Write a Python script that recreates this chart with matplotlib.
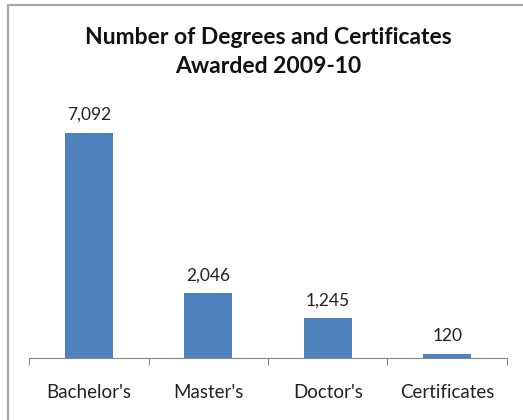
import matplotlib
matplotlib.use("Agg")
import matplotlib.pyplot as plt
from matplotlib.patches import Rectangle

# data
categories = ["Bachelor's", "Master's", "Doctor's", "Certificates"]
awarded = [7092, 2046, 1245, 120]
title = "Number of Degrees and Certificates\nAwarded 2009-10"

plt.rcParams['font.family'] = ['Lato', 'DejaVu Sans']

W, H = 523, 420
fig = plt.figure(figsize=(W / 100, H / 100), dpi=100)

# chart border (cut off at right and bottom in the original)
fig.patches.append(Rectangle((8 / W, -0.1), 1.2, 1 - 5 / H + 0.1,
                             transform=fig.transFigure, fill=False,
                             edgecolor='#a6a6a6', linewidth=1.6))

ax = fig.add_axes([29 / W, 62 / H, (507 - 29) / W, (358 - 104) / H])
x = range(len(categories))
ax.bar(x, awarded, width=0.4, color='#4f81bd')

for i, v in enumerate(awarded):
    ax.annotate(f"{v:,}", (i, v), xytext=(0, 7), textcoords='offset points',
                ha='center', va='bottom', fontsize=12.5, color='#222222')

ax.set_xlim(-0.5, len(categories) - 0.5)
ax.set_ylim(0, 8000)
ax.set_yticks([])
for s in ['top', 'right', 'left']:
    ax.spines[s].set_visible(False)
ax.spines['bottom'].set_color('#868686')

ax.set_xticks([i - 0.5 for i in range(len(categories) + 1)], minor=False)
ax.set_xticklabels([])
ax.tick_params(axis='x', which='major', length=5, color='#868686', direction='out')
ax.set_xticks(list(x), minor=True)
ax.set_xticklabels(categories, minor=True)
ax.tick_params(axis='x', which='minor', length=0, pad=19, labelsize=13.5, labelcolor='#222222')

fig.text(268 / W, 1 - 52 / H, title, ha='center', va='center',
         fontsize=16.5, fontweight='bold', linespacing=1.45, color='#111111')

fig.savefig("out.png", dpi=100)
